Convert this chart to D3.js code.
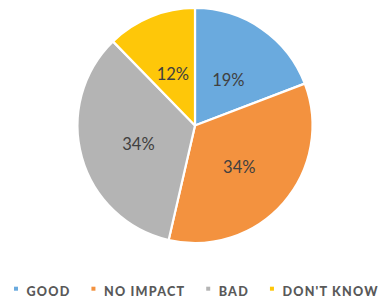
<!DOCTYPE html>
<html><head><meta charset="utf-8">
<script src="https://cdn.jsdelivr.net/npm/d3@7"></script>
<style>body{margin:0;background:#fff}svg{display:block}</style>
</head><body>
<svg id="c" width="385" height="300"></svg>
<script>
const categories = ["GOOD", "NO IMPACT", "BAD", "DON'T KNOW"];
const values = [19.2, 34.4, 34.1, 12.3];
const labels = ["19%", "34%", "34%", "12%"];
const colors = ["#6AAADE", "#F3923F", "#B4B4B4", "#FEC709"];

const svg = d3.select("#c");
const W = 385, cx = 195, cy = 125.5, R = 117.5;

const pie = d3.pie().sort(null).value(d => d)(values);
const arc = d3.arc().innerRadius(0).outerRadius(R);
const labelArc = d3.arc().innerRadius(R * 0.5).outerRadius(R * 0.5);

const g = svg.append("g").attr("transform", `translate(${cx},${cy})`);
g.selectAll("path").data(pie).join("path")
  .attr("d", arc)
  .attr("fill", (d, i) => colors[i])
  .attr("stroke", "#fff")
  .attr("stroke-width", 2.2)
  .attr("stroke-linejoin", "round");

g.selectAll("text").data(pie).join("text")
  .attr("transform", d => { const [x, y] = labelArc.centroid(d); return `translate(${x},${y + 3})`; })
  .attr("text-anchor", "middle")
  .attr("dominant-baseline", "central")
  .attr("font-family", "Lato, 'Open Sans', sans-serif")
  .attr("font-size", 16.5)
  .attr("fill", "#404040")
  .text((d, i) => labels[i]);

// legend
const lg = svg.append("g");
const items = lg.selectAll("g").data(categories).join("g");
items.append("rect").attr("width", 4).attr("height", 4).attr("y", -9.3)
  .attr("fill", (d, i) => colors[i]);
const texts = items.append("text")
  .attr("x", 12.5)
  .attr("font-family", "Lato, sans-serif")
  .attr("font-weight", 900)
  .attr("font-size", 12.6)
  .attr("letter-spacing", 1.2)
  .attr("fill", "#595959")
  .text(d => d);
const widths = [];
texts.each(function () { widths.push(12.5 + this.getComputedTextLength()); });
const gap = 21;
const total = d3.sum(widths) + gap * (widths.length - 1);
let x0 = Math.min(14, 383 - total);
items.attr("transform", (d, i) => {
  const t = `translate(${x0},296)`;
  x0 += widths[i] + gap;
  return t;
});
</script>
</body></html>
